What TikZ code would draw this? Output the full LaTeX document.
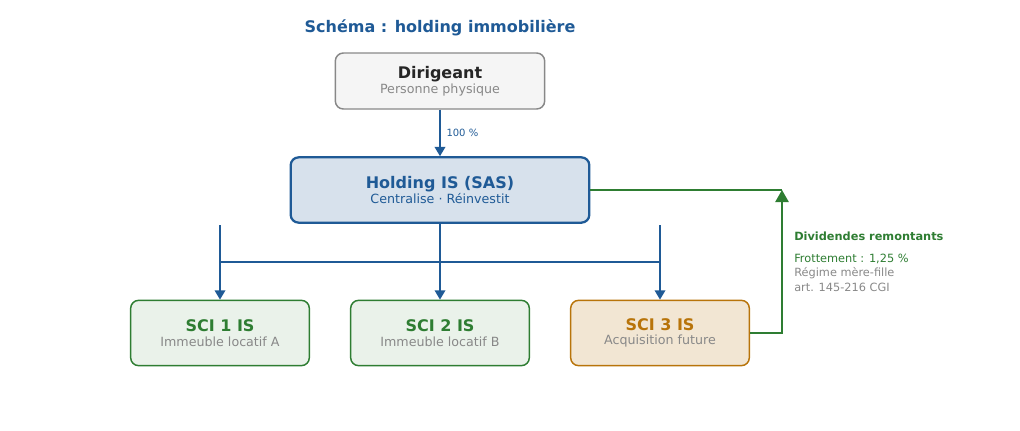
\documentclass[tikz,border=0pt]{standalone}
\usepackage{fontspec}
\setmainfont{DejaVu Sans}
\usetikzlibrary{positioning,arrows.meta}
\definecolor{hblue}{HTML}{1F5A96}
\definecolor{hgreen}{HTML}{2E7D32}
\definecolor{horange}{HTML}{B8740A}
\definecolor{tgray}{HTML}{888888}
\tikzset{
  box/.style={draw, rounded corners=6pt, align=center, inner sep=0pt, line width=1.1pt},
  sci/.style={box, draw=hgreen, fill=hgreen!10, minimum width=134pt, minimum height=49pt},
  link/.style={hblue, line width=1.1pt, -{Triangle[length=7pt,width=8pt]}},
  back/.style={hgreen, line width=1.1pt},
}
\begin{document}
\begin{tikzpicture}[x=0.75pt,y=-0.75pt]
\useasboundingbox (0,0) rectangle (1020,430);
\node[hblue, font=\bfseries\fontsize{12}{14}\selectfont] (title) at (440,28) {Schéma : holding immobilière};
% dirigeant
\node[box, draw=tgray, fill=black!4, minimum width=157pt, minimum height=42pt] (dir) at (440,81)
  {{\bfseries\fontsize{12}{14}\selectfont\color{black!85} Dirigeant}\\[-1pt]{\fontsize{9.5}{11}\selectfont\color{tgray} Personne physique}};
% holding
\node[box, draw=hblue, fill=hblue!18, line width=1.7pt, minimum width=224pt, minimum height=49pt] (hold) at (440,190)
  {{\bfseries\fontsize{12}{14}\selectfont\color{hblue} Holding IS (SAS)}\\[-1pt]{\fontsize{9.5}{11}\selectfont\color{hblue} Centralise · Réinvestit}};
% filiales
\node[sci] (sci1) at (220,333)
  {{\bfseries\fontsize{12}{14}\selectfont\color{hgreen} SCI 1 IS}\\[-1pt]{\fontsize{9.5}{11}\selectfont\color{tgray} Immeuble locatif A}};
\node[sci] (sci2) at (440,333)
  {{\bfseries\fontsize{12}{14}\selectfont\color{hgreen} SCI 2 IS}\\[-1pt]{\fontsize{9.5}{11}\selectfont\color{tgray} Immeuble locatif B}};
\node[sci, draw=horange, fill=horange!18] (sci3) at (660,333)
  {{\bfseries\fontsize{12}{14}\selectfont\color{horange} SCI 3 IS}\\[-1pt]{\fontsize{9.5}{11}\selectfont\color{tgray} Acquisition future}};
% liens
\draw[link] (dir) -- node[right, font=\fontsize{7.5}{9}\selectfont, xshift=1pt] {100 \%} (hold);
\coordinate (d1) at (220,225);
\coordinate (d3) at (660,225);
\draw[link] (d1) -- (sci1);
\draw[link] (hold) -- (sci2);
\draw[link] (d3) -- (sci3);
\draw[hblue, line width=1.1pt] (220,262) -- (660,262);
% dividendes
\coordinate (up) at (782,190);
\draw[back] (hold.east) -- (up);
\draw[back, -{Triangle[length=9pt,width=10pt]}] (sci3.east) -| (up);
\node[anchor=north west, align=left, inner sep=0pt] (div) at (794,232)
  {{\bfseries\fontsize{8.5}{10}\selectfont\color{hgreen} Dividendes remontants}\\[4pt]
   {\fontsize{8.5}{10}\selectfont\color{hgreen} Frottement : 1,25 \%}\\[-1pt]
   {\fontsize{8.5}{10}\selectfont\color{tgray} Régime mère-fille}\\[-1pt]
   {\fontsize{8.5}{10}\selectfont\color{tgray} art. 145-216 CGI}};
\end{tikzpicture}
\end{document}
